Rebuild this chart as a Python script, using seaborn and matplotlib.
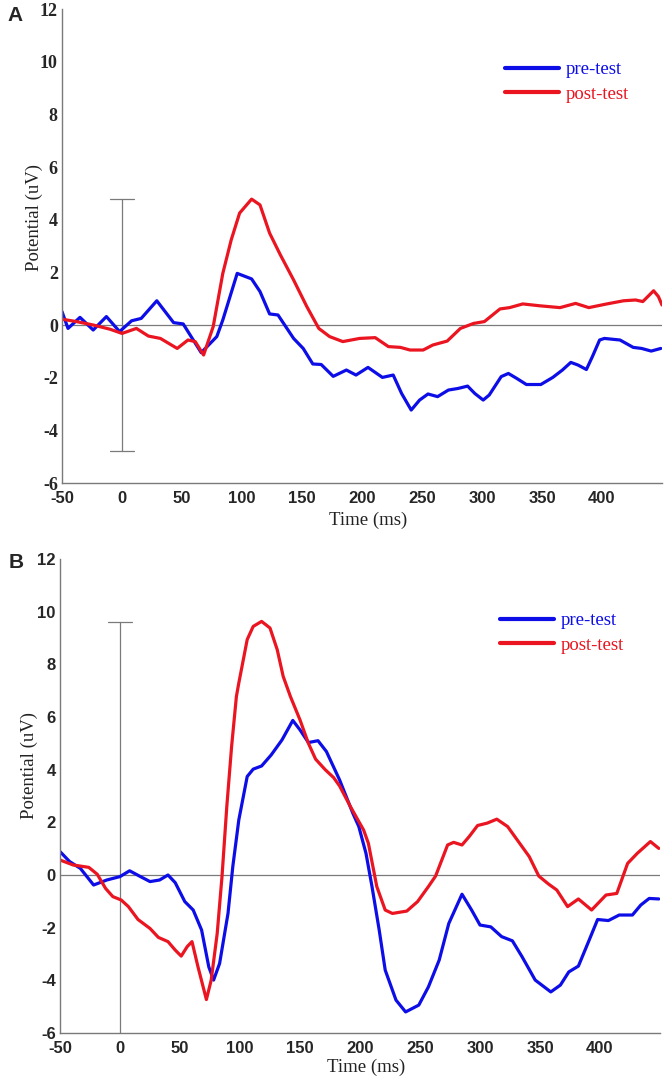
import matplotlib
matplotlib.use("Agg")
import matplotlib.pyplot as plt
import numpy as np
import pandas as pd
import seaborn as sns

# ---- data (time in ms, potential in uV) ----
a_pre_t = [-50, -45, -35, -24, -13, -2, 8, 16, 29, 43, 51, 66, 79, 84, 96, 108, 115, 123, 130, 143,
           151, 159, 166, 176, 187, 195, 205, 217, 226, 233, 241, 248, 255, 263, 272, 280, 288, 294,
           301, 306, 316, 322, 329, 337, 349, 359, 367, 374, 380, 387, 392, 398, 402, 415, 426, 433,
           441, 449]
a_pre_v = [0.51, -0.13, 0.29, -0.19, 0.32, -0.25, 0.16, 0.25, 0.92, 0.09, 0.04, -1.05, -0.44, 0.19,
           1.96, 1.75, 1.27, 0.42, 0.38, -0.51, -0.89, -1.48, -1.5, -1.95, -1.71, -1.9, -1.61, -1.99,
           -1.9, -2.6, -3.23, -2.85, -2.62, -2.72, -2.47, -2.41, -2.32, -2.6, -2.85, -2.66, -1.96,
           -1.84, -2.03, -2.26, -2.26, -1.99, -1.71, -1.42, -1.52, -1.69, -1.2, -0.57, -0.51, -0.57,
           -0.85, -0.89, -0.99, -0.89]

a_post_t = [-50, -38, -24, -10, 0, 12, 22, 32, 46, 55, 61, 68, 76, 84, 91, 98, 108, 115, 123, 132,
            143, 154, 164, 173, 184, 198, 211, 222, 232, 240, 251, 259, 271, 282, 293, 302, 315, 323,
            334, 348, 365, 378, 389, 404, 418, 428, 434, 443, 447, 450]
a_post_v = [0.22, 0.13, 0.0, -0.16, -0.32, -0.13, -0.42, -0.51, -0.89, -0.57, -0.63, -1.14, -0.06,
            1.96, 3.23, 4.25, 4.78, 4.56, 3.49, 2.66, 1.71, 0.7, -0.13, -0.44, -0.63, -0.51, -0.48,
            -0.82, -0.85, -0.95, -0.95, -0.76, -0.61, -0.13, 0.06, 0.13, 0.61, 0.66, 0.8, 0.73, 0.66,
            0.82, 0.66, 0.8, 0.92, 0.95, 0.89, 1.3, 1.08, 0.76]

b_pre_t = [-50, -42, -33, -22, -11, 0, 8, 17, 25, 33, 40, 46, 54, 61, 68, 74, 78, 83, 90, 94, 99,
           106, 111, 118, 126, 135, 144, 150, 157, 165, 172, 183, 194, 199, 205, 210, 216, 221, 230,
           238, 249, 257, 266, 274, 285, 293, 300, 309, 318, 327, 335, 346, 359, 367, 374, 382, 391,
           398, 407, 416, 427, 434, 441, 449]
b_pre_v = [0.89, 0.51, 0.25, -0.38, -0.19, -0.06, 0.16, -0.06, -0.25, -0.19, 0.0, -0.29, -1.01,
           -1.33, -2.09, -3.49, -3.99, -3.36, -1.46, 0.32, 2.09, 3.74, 4.02, 4.14, 4.56, 5.13, 5.87,
           5.51, 5.03, 5.1, 4.69, 3.61, 2.35, 1.84, 0.82, -0.44, -2.09, -3.61, -4.75, -5.2, -4.94,
           -4.25, -3.23, -1.84, -0.73, -1.33, -1.9, -1.97, -2.34, -2.5, -3.1, -3.99, -4.44, -4.18,
           -3.68, -3.46, -2.47, -1.69, -1.73, -1.52, -1.52, -1.14, -0.89, -0.91]

b_post_t = [-50, -39, -26, -19, -12, -6, 1, 7, 15, 25, 32, 40, 46, 51, 56, 60, 65, 72, 76, 81, 85,
            89, 93, 97, 99, 106, 111, 118, 125, 131, 136, 142, 150, 157, 163, 171, 178, 183, 192,
            199, 203, 207, 214, 221, 227, 239, 248, 257, 263, 273, 278, 285, 291, 298, 306, 314, 323,
            332, 341, 349, 357, 364, 373, 382, 393, 405, 414, 423, 431, 442, 449]
b_post_v = [0.57, 0.38, 0.29, 0.03, -0.51, -0.82, -0.95, -1.2, -1.69, -2.03, -2.37, -2.53, -2.85,
            -3.08, -2.72, -2.53, -3.49, -4.73, -3.99, -2.22, -0.06, 2.6, 4.88, 6.78, 7.29, 8.94, 9.44,
            9.63, 9.38, 8.56, 7.54, 6.78, 5.89, 5.0, 4.4, 4.0, 3.7, 3.38, 2.6, 2.03, 1.71, 1.2, -0.44,
            -1.33, -1.46, -1.37, -1.01, -0.44, -0.04, 1.14, 1.24, 1.14, 1.46, 1.88, 1.97, 2.12, 1.84,
            1.27, 0.7, -0.04, -0.34, -0.57, -1.2, -0.91, -1.33, -0.76, -0.7, 0.44, 0.82, 1.27, 1.01]

# scale bars at t = 0 (low, high)
bar_a = (-4.8, 4.8)
bar_b = (-6.0, 9.6)

sessions = ["pre-test", "post-test"]
colors = {"pre-test": "#0d0de8", "post-test": "#ea1520"}
xticks = [-50, 0, 50, 100, 150, 200, 250, 300, 350, 400]
yticks = [-6, -4, -2, 0, 2, 4, 6, 8, 10, 12]


def make_df(pre_t, pre_v, post_t, post_v):
    d1 = pd.DataFrame({"time": pre_t, "uv": pre_v, "session": "pre-test"})
    d2 = pd.DataFrame({"time": post_t, "uv": post_v, "session": "post-test"})
    return pd.concat([d1, d2], ignore_index=True)


sns.set_style("white")
plt.rcParams["font.family"] = ["Liberation Sans", "DejaVu Sans"]
plt.rcParams["axes.unicode_minus"] = False

fig = plt.figure(figsize=(6.66, 10.79), dpi=100)
ax_a = fig.add_axes([62 / 666, 1 - 483 / 1079, 600 / 666, 474 / 1079])
ax_b = fig.add_axes([60 / 666, 1 - 1033 / 1079, 600 / 666, 474 / 1079])

grey = "#7a7a7a"
panels = [
    (ax_a, make_df(a_pre_t, a_pre_v, a_post_t, a_post_v), bar_a, True, "serif",
     (-0.046, 0.561), (0.51, -0.078), (0.738, 0.89), "A", (7, 21)),
    (ax_b, make_df(b_pre_t, b_pre_v, b_post_t, b_post_v), bar_b, False, "sans",
     (-0.051, 0.565), (0.51, -0.072), (0.733, 0.888), "B", (9, 568)),
]

for ax, df, bar, low_cap, ytick_font, ylab_pos, xlab_pos, leg_pos, letter, letter_px in panels:
    sns.lineplot(data=df, x="time", y="uv", hue="session", hue_order=sessions,
                 palette=colors, estimator=None, sort=False, linewidth=2.3, ax=ax,
                 solid_joinstyle="round", solid_capstyle="round")

    # zero line and stimulus bar
    ax.axhline(0, color=grey, lw=0.9, zorder=1)
    ax.plot([0, 0], list(bar), color=grey, lw=0.9, zorder=1)
    ax.plot([-10, 10], [bar[1], bar[1]], color=grey, lw=0.9, zorder=1)
    if low_cap:
        ax.plot([-10, 10], [bar[0], bar[0]], color=grey, lw=0.9, zorder=1)

    ax.set_xlim(-50, 450)
    ax.set_ylim(-6, 12)
    ax.set_xticks(xticks)
    ax.set_yticks(yticks)
    for s in ["top", "right"]:
        ax.spines[s].set_visible(False)
    for s in ["left", "bottom"]:
        ax.spines[s].set_color(grey)
        ax.spines[s].set_linewidth(1.0)
    ax.tick_params(axis="x", direction="in", length=7, width=0.9, color=grey,
                   labelsize=12, pad=6)
    ax.tick_params(axis="y", direction="in", length=4, width=0.9, color=grey,
                   labelsize=12, pad=3)
    for lab in ax.get_xticklabels():
        lab.set_fontweight("bold")
    for lab in ax.get_yticklabels():
        lab.set_fontweight("bold")
        if ytick_font == "serif":
            lab.set_fontfamily("Liberation Serif")
            lab.set_fontsize(13)

    ax.set_xlabel("Time (ms)", fontfamily="Liberation Serif", fontsize=13.5, color="#222222")
    ax.set_ylabel("Potential (uV)", fontfamily="Liberation Serif", fontsize=13.5, color="#222222")
    ax.xaxis.set_label_coords(*xlab_pos)
    ax.yaxis.set_label_coords(*ylab_pos)
    ax.xaxis.label.set_va("center")
    ax.yaxis.label.set_va("center")

    leg = ax.get_legend()
    handles = leg.legend_handles
    labels = [t.get_text() for t in leg.get_texts()]
    for h in handles:
        h.set_linewidth(3.0)
        h.set_solid_capstyle("round")
    ax.legend(handles, labels, loc="upper left", bbox_to_anchor=leg_pos, frameon=False,
              labelcolor="linecolor", prop={"family": "Liberation Serif", "size": 13.5},
              handlelength=2.9, handletextpad=0.35, labelspacing=0.4, borderpad=0,
              borderaxespad=0)

    fig.text(letter_px[0] / 666, 1 - letter_px[1] / 1079, letter, fontsize=15,
             fontweight="bold", ha="left", va="baseline")

fig.savefig("out.png", dpi=100)
